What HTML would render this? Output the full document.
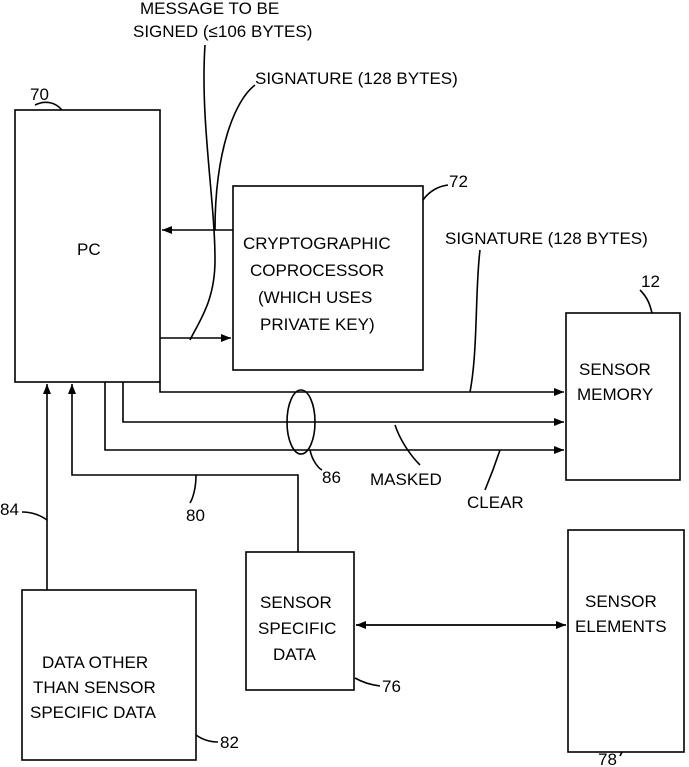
<!DOCTYPE html>
<html><head><meta charset="utf-8"><style>
html,body{margin:0;padding:0;background:#fff;}
svg{display:block;}
text{font-family:"Liberation Sans",sans-serif;font-size:17px;fill:#000;}
</style></head><body>
<svg width="689" height="767" viewBox="0 0 689 767" xmlns="http://www.w3.org/2000/svg">
<defs><marker id="a" markerWidth="10" markerHeight="8" refX="10" refY="4" orient="auto" markerUnits="userSpaceOnUse"><path d="M0,0 L10,4 L0,8 Z" fill="#000"/></marker></defs>
<g fill="none" stroke="#000" stroke-width="1.6">
<rect x="15" y="110" width="145" height="272"/>
<rect x="233" y="186" width="190" height="184"/>
<rect x="566" y="313" width="114" height="167"/>
<rect x="246" y="552" width="108" height="138"/>
<rect x="568" y="530" width="116" height="222"/>
<rect x="22" y="590" width="174" height="170"/>
<line x1="233" y1="230" x2="162" y2="230" marker-end="url(#a)"/>
<line x1="160" y1="338" x2="231" y2="338" marker-end="url(#a)"/>
<polyline points="160,382 160,392 564,392" marker-end="url(#a)"/>
<polyline points="123,382 123,422 564,422" marker-end="url(#a)"/>
<polyline points="105,382 105,450 564,450" marker-end="url(#a)"/>
<line x1="47" y1="590" x2="47" y2="384" marker-end="url(#a)"/>
<polyline points="298,552 298,475 72,475 72,384" marker-end="url(#a)"/>
<line x1="356" y1="625" x2="566" y2="625" marker-end="url(#a)"/>
<line x1="566" y1="625" x2="356" y2="625" marker-end="url(#a)"/>
<ellipse cx="301" cy="422" rx="14" ry="32"/>
<path d="M205,45 C200,120 215,200 215,260 C215,300 200,320 190,340"/>
<path d="M255,85 C235,100 215,150 215,230"/>
<path d="M423,200 C430,190 440,186 448,185"/>
<path d="M480,250 C475,290 478,350 470,392"/>
<path d="M395,425 C400,440 410,455 420,465"/>
<path d="M500,450 C495,465 490,478 485,490"/>
<path d="M310,450 C312,460 318,468 322,470"/>
<path d="M35,105 C45,100 55,102 62,110"/>
<path d="M640,290 C648,298 650,305 652,313"/>
<path d="M22,512 C32,512 40,515 47,520"/>
<path d="M355,678 C362,682 372,685 380,686"/>
<path d="M196,735 C203,740 210,742 218,742"/>
<path d="M196,475 C196,488 193,498 190,503"/>
<line x1="622" y1="752" x2="620" y2="756"/>
</g>
<text x="140" y="14">MESSAGE TO BE</text>
<text x="133" y="37">SIGNED (≤106 BYTES)</text>
<text x="255" y="84">SIGNATURE (128 BYTES)</text>
<text x="30" y="100">70</text>
<text x="77" y="255" font-size="18">PC</text>
<text x="449" y="187">72</text>
<text x="243" y="249">CRYPTOGRAPHIC</text>
<text x="250" y="276">COPROCESSOR</text>
<text x="258" y="303">(WHICH USES</text>
<text x="260" y="330">PRIVATE KEY)</text>
<text x="445" y="244">SIGNATURE (128 BYTES)</text>
<text x="641" y="287">12</text>
<text x="579" y="375">SENSOR</text>
<text x="577" y="400">MEMORY</text>
<text x="322" y="483">86</text>
<text x="370" y="485">MASKED</text>
<text x="467" y="508">CLEAR</text>
<text x="0" y="515">84</text>
<text x="186" y="521">80</text>
<text x="260" y="608">SENSOR</text>
<text x="258" y="634">SPECIFIC</text>
<text x="273" y="660">DATA</text>
<text x="382" y="692">76</text>
<text x="585" y="607">SENSOR</text>
<text x="575" y="632">ELEMENTS</text>
<text x="42" y="668">DATA OTHER</text>
<text x="33" y="693">THAN SENSOR</text>
<text x="30" y="718">SPECIFIC DATA</text>
<text x="220" y="748">82</text>
<text x="598" y="765">78</text>
</svg>
</body></html>
